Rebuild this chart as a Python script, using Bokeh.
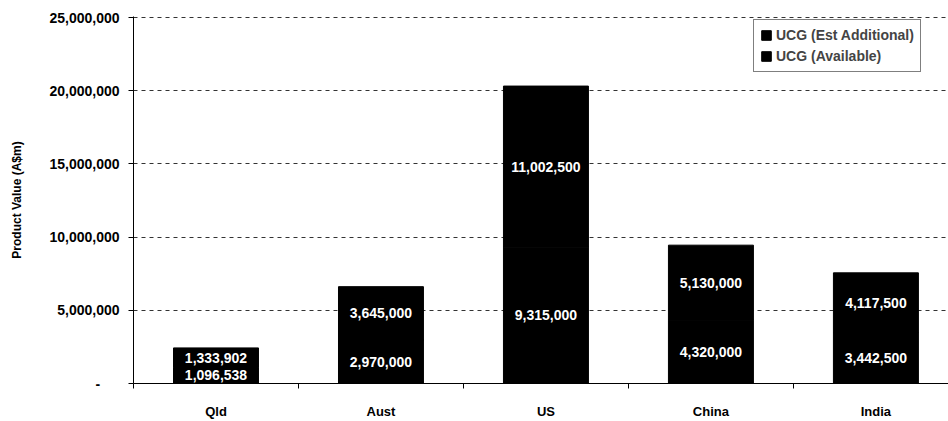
from bokeh.plotting import figure
from bokeh.models import (Range1d, FixedTicker, NumeralTickFormatter, Legend,
                          LegendItem, ColumnDataSource)
from bokeh.core.properties import value
from bokeh.embed import file_html
from bokeh.resources import INLINE

categories = ["Qld", "Aust", "US", "China", "India"]
available = [1096538, 2970000, 9315000, 4320000, 3442500]
est_additional = [1333902, 3645000, 11002500, 5130000, 4117500]
y_ticks = [0, 5000000, 10000000, 15000000, 20000000, 25000000]
series_names = ["UCG (Available)", "UCG (Est Additional)"]

FONT = "Liberation Sans, Arial, sans-serif"

xpos = [i + 0.5 for i in range(len(categories))]
src = ColumnDataSource(dict(
    x=xpos,
    avail=available,
    add=est_additional,
    avail_mid=[a / 2 for a in available],
    add_mid=[a + b / 2 for a, b in zip(available, est_additional)],
    avail_lbl=[f"{v:,}" for v in available],
    add_lbl=[f"{v:,}" for v in est_additional],
))

p = figure(width=948, height=421, output_backend="svg", toolbar_location=None,
           x_range=Range1d(0, 4.94), y_range=Range1d(0, 25070000),
           min_border_left=133, min_border_right=0, min_border_top=16,
           min_border_bottom=30)
p.outline_line_color = None
p.background_fill_color = "white"

rs = p.vbar_stack(["avail", "add"], x="x", width=0.515, source=src,
                  color=["black", "black"], line_color="black")

# labels
p.text(x="x", y="avail_mid", text="avail_lbl", source=src, text_color="white",
       text_align="center", text_baseline="middle", text_font=value(FONT),
       text_font_size="14px", text_font_style="bold")
p.text(x="x", y="add_mid", text="add_lbl", source=src, text_color="white",
       text_align="center", text_baseline="middle", text_font=value(FONT),
       text_font_size="14px", text_font_style="bold")

# y axis
p.yaxis.ticker = FixedTicker(ticks=y_ticks)
p.yaxis.formatter = NumeralTickFormatter(format="0,0")
p.yaxis.major_label_overrides = {0: "-\u00a0\u00a0\u00a0\u00a0\u00a0"}
p.yaxis.axis_label = "Product Value (A$m)"
p.yaxis.axis_label_text_font = FONT
p.yaxis.axis_label_text_font_size = "12px"
p.yaxis.axis_label_text_font_style = "bold"
p.yaxis.axis_label_text_color = "black"
p.yaxis.axis_label_standoff = 22
p.yaxis.major_label_text_font = FONT
p.yaxis.major_label_text_font_size = "14px"
p.yaxis.major_label_text_font_style = "bold"
p.yaxis.major_label_text_color = "black"
p.yaxis.major_tick_out = 5
p.yaxis.major_tick_in = 0
p.yaxis.minor_tick_line_color = None
p.yaxis.major_label_standoff = 9
p.yaxis.axis_line_color = "black"
p.yaxis.major_tick_line_color = "black"

# x axis: labels at centres, ticks between categories
p.xaxis.ticker = FixedTicker(ticks=xpos, minor_ticks=list(range(len(categories) + 1)))
p.xaxis.major_label_overrides = {x: c for x, c in zip(xpos, categories)}
p.xaxis.major_tick_line_color = None
p.xaxis.minor_tick_line_color = "black"
p.xaxis.minor_tick_out = 5
p.xaxis.minor_tick_in = 0
p.xaxis.major_label_text_font = FONT
p.xaxis.major_label_text_font_size = "13px"
p.xaxis.major_label_text_font_style = "bold"
p.xaxis.major_label_text_color = "black"
p.xaxis.major_label_standoff = 14
p.xaxis.axis_line_color = "black"

p.xgrid.grid_line_color = None
p.ygrid.ticker = FixedTicker(ticks=y_ticks[1:])
p.ygrid.grid_line_color = "#333333"
p.ygrid.grid_line_dash = "4 4"
p.ygrid.grid_line_width = 1

legend = Legend(items=[LegendItem(label=series_names[1], renderers=[rs[1]]),
                       LegendItem(label=series_names[0], renderers=[rs[0]])],
                location=(620, 311), margin=0, padding=6, spacing=3,
                glyph_width=12, glyph_height=12, label_height=18,
                label_standoff=4,
                label_text_font=FONT, label_text_font_size="14px",
                label_text_font_style="bold",
                border_line_color="black", border_line_width=1.5,
                background_fill_alpha=1)
p.add_layout(legend)

open("out.html", "w").write(file_html(p, INLINE))
